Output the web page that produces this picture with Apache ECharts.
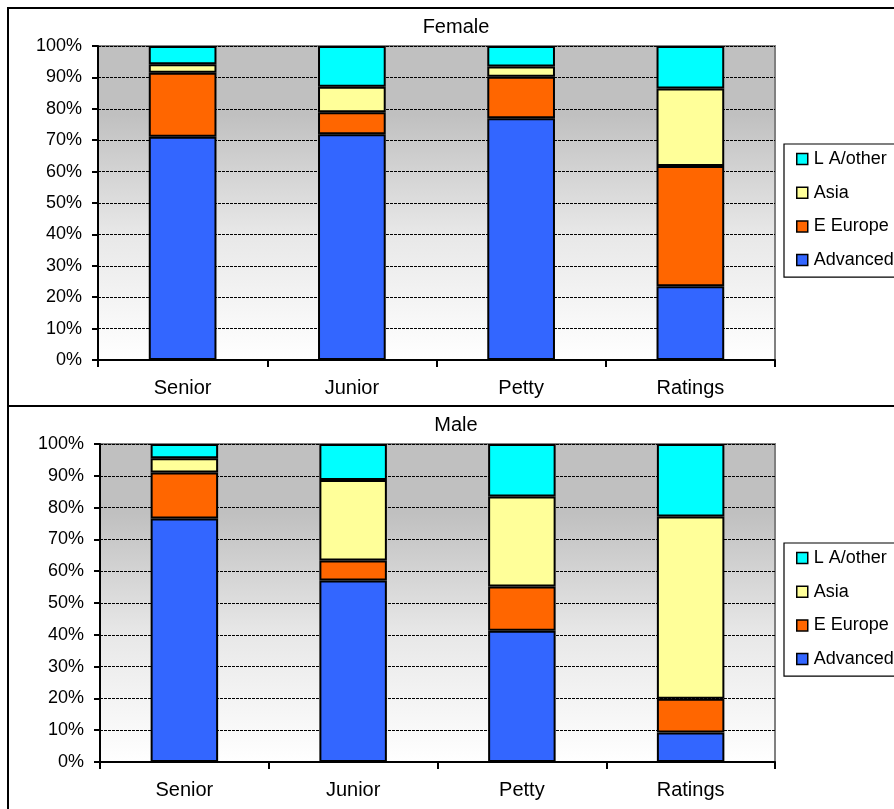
<!DOCTYPE html>
<html>
<head>
<meta charset="utf-8">
<script src="https://cdn.jsdelivr.net/npm/echarts@6/dist/echarts.min.js"></script>
<style>
  html, body { margin: 0; padding: 0; background: #fff; }
  #chart { width: 894px; height: 809px; }
</style>
</head>
<body>
<div id="chart"></div>
<script>
// Shares of each origin group by job grade, in percent
const categories = ['Senior', 'Junior', 'Petty', 'Ratings'];
const seriesNames = ['Advanced', 'E Europe', 'Asia', 'L A/other'];
const legendOrder = ['L A/other', 'Asia', 'E Europe', 'Advanced'];

const femaleAdvanced = [71.1, 71.9, 77.0, 23.5];
const femaleEEurope  = [20.4, 7.0, 13.2, 38.3];
const femaleAsia     = [2.7, 8.1, 3.3, 24.7];
const femaleLAOther  = [5.8, 13.0, 6.5, 13.5];

const maleAdvanced = [76.6, 57.1, 41.3, 9.3];
const maleEEurope  = [14.4, 6.3, 13.9, 10.6];
const maleAsia     = [4.5, 25.3, 28.3, 57.3];
const maleLAOther  = [4.5, 11.3, 16.5, 22.8];

const yTicks = [0, 10, 20, 30, 40, 50, 60, 70, 80, 90, 100];

const colors = {
  'Advanced': '#3366FF',
  'E Europe': '#FF6600',
  'Asia': '#FFFF99',
  'L A/other': '#00FFFF'
};

const FONT = '"Liberation Sans", Arial, sans-serif';

const chart = echarts.init(document.getElementById('chart'));

const plotBg = new echarts.graphic.LinearGradient(0, 0, 0, 1, [
  { offset: 0, color: '#c0c0c0' },
  { offset: 0.22, color: '#c0c0c0' },
  { offset: 0.6, color: '#e8e8e8' },
  { offset: 1, color: '#ffffff' }
]);

function makeGrid(left, top, width, height) {
  return {
    left, top, width, height,
    show: true,
    backgroundColor: plotBg,
    borderColor: '#808080',
    borderWidth: 2
  };
}

function makeXAxis(gridIndex) {
  return {
    type: 'category',
    gridIndex,
    data: categories,
    axisLine: { lineStyle: { color: '#000', width: 2 } },
    axisTick: { show: true, length: 7, lineStyle: { color: '#000', width: 2 } },
    axisLabel: { color: '#000', fontFamily: FONT, fontSize: 20, margin: 18 },
    splitLine: { show: false }
  };
}

function makeYAxis(gridIndex) {
  return {
    type: 'value',
    gridIndex,
    min: yTicks[0],
    max: yTicks[yTicks.length - 1],
    interval: yTicks[1] - yTicks[0],
    axisLine: { show: true, lineStyle: { color: '#000', width: 2 } },
    axisTick: { show: true, length: 6, lineStyle: { color: '#000', width: 2 } },
    axisLabel: {
      color: '#000', fontFamily: FONT, fontSize: 18, margin: 16,
      formatter: v => v + '%'
    },
    splitLine: { show: true, lineStyle: { color: '#000', type: [3, 1], width: 1.2 } }
  };
}

function makeBars(idx, stack, valuesByName) {
  return seriesNames.map(name => ({
    name,
    type: 'bar',
    stack,
    xAxisIndex: idx,
    yAxisIndex: idx,
    barWidth: '40%',
    data: valuesByName[name],
    itemStyle: { color: colors[name], borderColor: '#000', borderWidth: 2 },
    emphasis: { disabled: true }
  }));
}

function makeLegend(top) {
  return {
    data: legendOrder,
    orient: 'vertical',
    left: 784,
    top,
    icon: 'rect',
    itemWidth: 11,
    itemHeight: 11,
    itemGap: 15.7,
    padding: [6, 10, 8, 12],
    borderColor: '#000',
    borderWidth: 1.2,
    backgroundColor: '#fff',
    textStyle: { color: '#000', fontFamily: FONT, fontSize: 18, padding: [0, 0, 0, 1] },
    itemStyle: { borderWidth: 1.5, borderColor: '#000' },
    selectedMode: false
  };
}

const option = {
  animation: false,
  backgroundColor: '#fff',
  title: [
    { text: 'Female', left: 456, top: 17, textAlign: 'center', padding: 0,
      textStyle: { color: '#000', fontFamily: FONT, fontSize: 20, fontWeight: 'normal' } },
    { text: 'Male', left: 456, top: 415, textAlign: 'center', padding: 0,
      textStyle: { color: '#000', fontFamily: FONT, fontSize: 20, fontWeight: 'normal' } }
  ],
  legend: [makeLegend(144), makeLegend(543)],
  grid: [makeGrid(98, 46, 677, 314), makeGrid(100, 444, 675, 318)],
  xAxis: [makeXAxis(0), makeXAxis(1)],
  yAxis: [makeYAxis(0), makeYAxis(1)],
  series: [
    ...makeBars(0, 'female', {
      'Advanced': femaleAdvanced, 'E Europe': femaleEEurope,
      'Asia': femaleAsia, 'L A/other': femaleLAOther
    }),
    ...makeBars(1, 'male', {
      'Advanced': maleAdvanced, 'E Europe': maleEEurope,
      'Asia': maleAsia, 'L A/other': maleLAOther
    })
  ],
  graphic: [
    { type: 'rect', silent: true, z: 100,
      shape: { x: 8, y: 8, width: 940, height: 398 },
      style: { fill: 'none', stroke: '#000', lineWidth: 2 } },
    { type: 'rect', silent: true, z: 100,
      shape: { x: 8, y: 406, width: 940, height: 440 },
      style: { fill: 'none', stroke: '#000', lineWidth: 2 } }
  ]
};

chart.setOption(option);
</script>
</body>
</html>
